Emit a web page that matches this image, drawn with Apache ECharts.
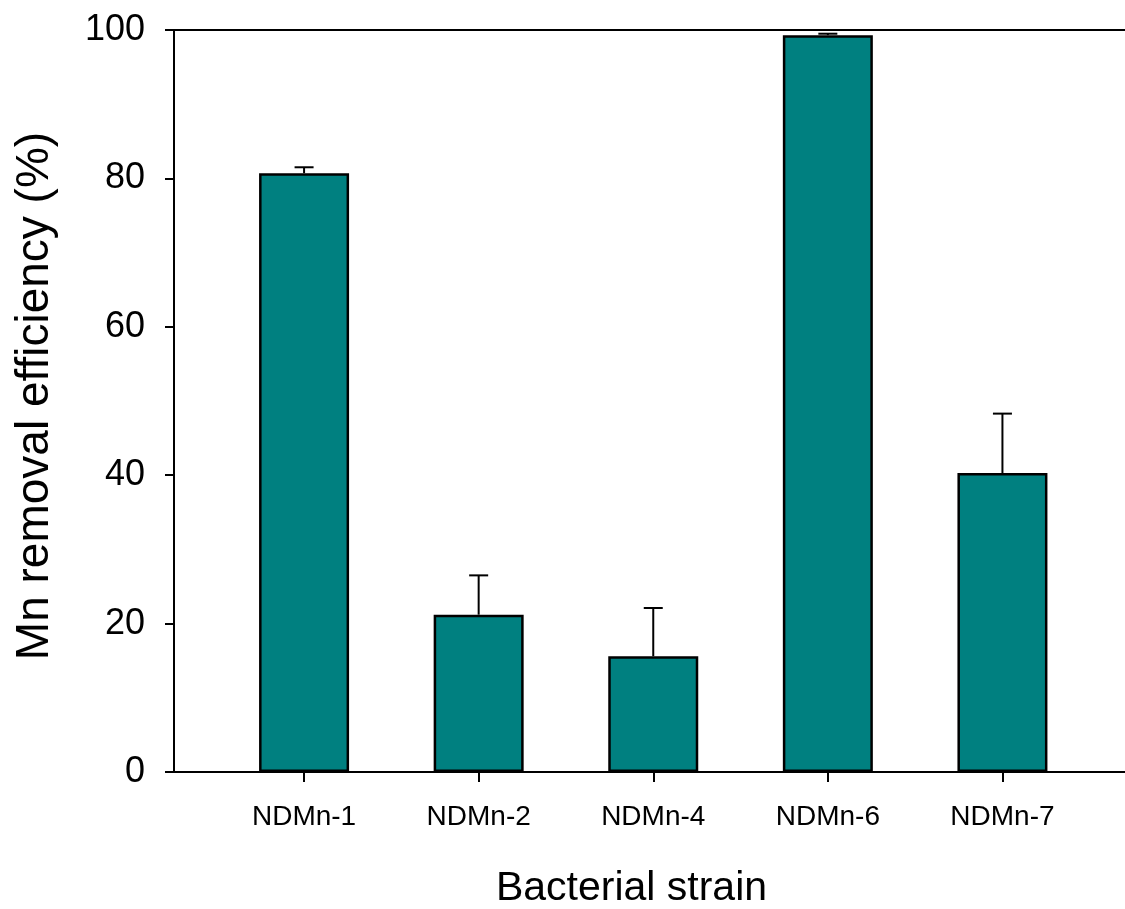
<!DOCTYPE html>
<html>
<head>
<meta charset="utf-8">
<script src="https://cdn.jsdelivr.net/npm/echarts@6/dist/echarts.min.js"></script>
<style>
html,body{margin:0;padding:0;background:#fff;}
#chart{width:1125px;height:909px;}
</style>
</head>
<body>
<div id="chart"></div>
<script>
var categories = ['NDMn-1', 'NDMn-2', 'NDMn-4', 'NDMn-6', 'NDMn-7'];
var removal = [80.7, 21.2, 15.6, 99.3, 40.3];
var errorTop = [81.5, 26.5, 22.1, 99.5, 48.3];
var yTicks = [0, 20, 40, 60, 80, 100];

var positions = categories.map(function (c, i) { return i; });
var barData = positions.map(function (x, i) { return [x, removal[i]]; });
var errData = positions.map(function (x, i) { return [x, removal[i], errorTop[i]]; });

var chart = echarts.init(document.getElementById('chart'));
var font = 'Liberation Sans, Arial, sans-serif';
chart.setOption({
  animation: false,
  grid: { left: 174, top: 30, right: 0, bottom: 137, containLabel: false, outerBoundsMode: 'none' },
  xAxis: [{
    type: 'value',
    min: -0.745,
    max: 4.702,
    splitLine: { show: false },
    axisLine: { show: true, onZero: false, lineStyle: { color: '#000', width: 2 } },
    axisTick: { show: true, length: 10, lineStyle: { color: '#000', width: 2 }, customValues: positions },
    axisLabel: {
      customValues: positions,
      margin: 31,
      color: '#000',
      fontFamily: font,
      fontSize: 28,
      formatter: function (v) { return categories[Math.round(v)]; }
    },
    name: 'Bacterial strain',
    nameLocation: 'middle',
    nameGap: 96,
    nameTextStyle: { color: '#000', fontFamily: font, fontSize: 41, padding: [0, 36, 0, 0] }
  }, {
    type: 'value',
    position: 'top',
    min: -0.745,
    max: 4.702,
    splitLine: { show: false },
    axisLine: { show: true, onZero: false, lineStyle: { color: '#000', width: 2 } },
    axisTick: { show: false },
    axisLabel: { show: false }
  }],
  yAxis: {
    type: 'value',
    min: 0,
    max: 100,
    interval: 20,
    splitLine: { show: false },
    axisLine: { show: true, onZero: false, lineStyle: { color: '#000', width: 2 } },
    axisTick: { show: true, length: 9, lineStyle: { color: '#000', width: 2 } },
    axisLabel: {
      margin: 29,
      color: '#000',
      fontFamily: font,
      fontSize: 36,
      formatter: function (v) { return yTicks.indexOf(v) >= 0 ? String(v) : ''; }
    },
    name: 'Mn removal efficiency (%)',
    nameLocation: 'middle',
    nameGap: 116,
    nameTextStyle: { color: '#000', fontFamily: font, fontSize: 46, padding: [0, 0, 0, 10] }
  },
  series: [{
    type: 'bar',
    data: barData,
    barWidth: 90,
    itemStyle: { color: '#008080', borderColor: '#000', borderWidth: 2.5 },
    z: 2
  }, {
    type: 'custom',
    data: errData,
    z: 1,
    renderItem: function (params, api) {
      var base = api.coord([api.value(0), api.value(1)]);
      var top = api.coord([api.value(0), api.value(2)]);
      var half = 9.5;
      var st = { stroke: '#000', lineWidth: 2 };
      return {
        type: 'group',
        children: [
          { type: 'line', shape: { x1: base[0], y1: base[1], x2: top[0], y2: top[1] }, style: st },
          { type: 'line', shape: { x1: top[0] - half, y1: top[1], x2: top[0] + half, y2: top[1] }, style: st }
        ]
      };
    }
  }]
});
</script>
</body>
</html>
